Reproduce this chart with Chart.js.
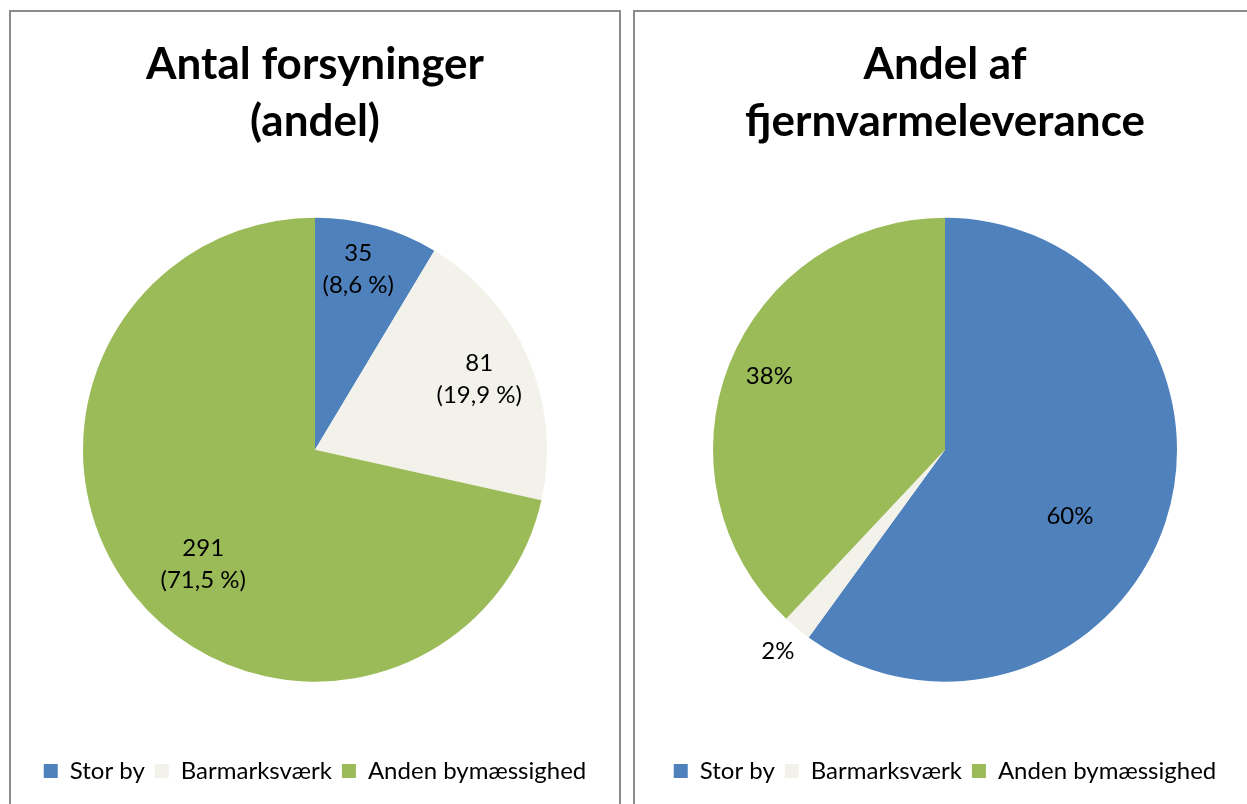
<!DOCTYPE html>
<html>
<head>
<meta charset="utf-8">
<script src="https://cdn.jsdelivr.net/npm/chart.js@4"></script>
<style>
  body { margin: 0; background: #fff; overflow: hidden; }
  .panel { position: absolute; top: 10px; height: 800px; border: 2px solid #8c8c8c; background: #fff; }
  #leftPanel { left: 9px; width: 608px; }
  #rightPanel { left: 633px; width: 620px; }
  canvas { display: block; }
</style>
</head>
<body>
<div class="panel" id="leftPanel"><canvas id="antalChart" width="608" height="792"></canvas></div>
<div class="panel" id="rightPanel"><canvas id="leveranceChart" width="620" height="792"></canvas></div>
<script>
// categories and values
const categories = ['Stor by', 'Barmarksværk', 'Anden bymæssighed']
const antalValues = [35, 81, 291]
const leveranceValues = [60, 2, 38]
const colors = ['#4F81BD', '#F3F2EA', '#9BBB59']
const FONT = 'Lato, Calibri, sans-serif'

const antalTotal = antalValues.reduce((a, b) => a + b, 0)
const antalLabels = antalValues.map(v => [String(v), '(' + (v / antalTotal * 100).toFixed(1).replace('.', ',') + ' %)'])
const leveranceLabels = leveranceValues.map(v => [v + '%'])

// draws the text labels on (or next to) each slice
const sliceLabels = {
    id: 'sliceLabels',
    afterDatasetsDraw(chart, args, opts) {
        const ctx = chart.ctx
        const meta = chart.getDatasetMeta(0)
        ctx.save()
        ctx.fillStyle = '#000'
        ctx.font = opts.size + 'px ' + FONT
        ctx.textAlign = 'center'
        ctx.textBaseline = 'middle'
        meta.data.forEach((arc, i) => {
            const p = arc.getProps(['x', 'y', 'startAngle', 'endAngle', 'outerRadius'], true)
            const a = (p.startAngle + p.endAngle) / 2 + (opts.shift[i] || 0) * Math.PI / 180
            const r = p.outerRadius * opts.dist[i]
            const lines = opts.text[i]
            const lh = 32
            const cx = p.x + Math.cos(a) * r
            let cy = p.y + Math.sin(a) * r - (lines.length - 1) * lh / 2
            lines.forEach(line => {
                ctx.fillText(line, cx, cy)
                cy += lh
            })
        })
        ctx.restore()
    }
}

function pieChart(canvasID, title, values, labelOpts) {
    const config = {
        type: 'pie',
        data: {
            labels: categories,
            datasets: [{
                data: values,
                backgroundColor: colors,
                borderWidth: 0,
                radius: 232
            }]
        },
        options: {
            responsive: false,
            animation: false,
            devicePixelRatio: 1,
            layout: { padding: { bottom: 11 } },
            plugins: {
                title: {
                    display: true,
                    text: title,
                    color: '#000',
                    font: { family: FONT, size: 44, weight: 'bold', lineHeight: 1.3 },
                    padding: { top: 24, bottom: 0 }
                },
                legend: {
                    position: 'bottom',
                    labels: {
                        color: '#000',
                        font: { family: FONT, size: 24 },
                        boxWidth: 14,
                        boxHeight: 14,
                        padding: 10
                    }
                },
                tooltip: { enabled: false },
                sliceLabels: labelOpts
            }
        },
        plugins: [sliceLabels]
    }
    return new Chart(document.getElementById(canvasID), config)
}

pieChart('antalChart', ['Antal forsyninger', '(andel)'], antalValues,
    { text: antalLabels, size: 24, dist: [0.8, 0.77, 0.69], shift: [-2, 0, -7] })
pieChart('leveranceChart', ['Andel af', 'fjernvarmeleverance'], leveranceValues,
    { text: leveranceLabels, size: 24, dist: [0.61, 1.13, 0.82], shift: [10, 0, 1] })
</script>
</body>
</html>
